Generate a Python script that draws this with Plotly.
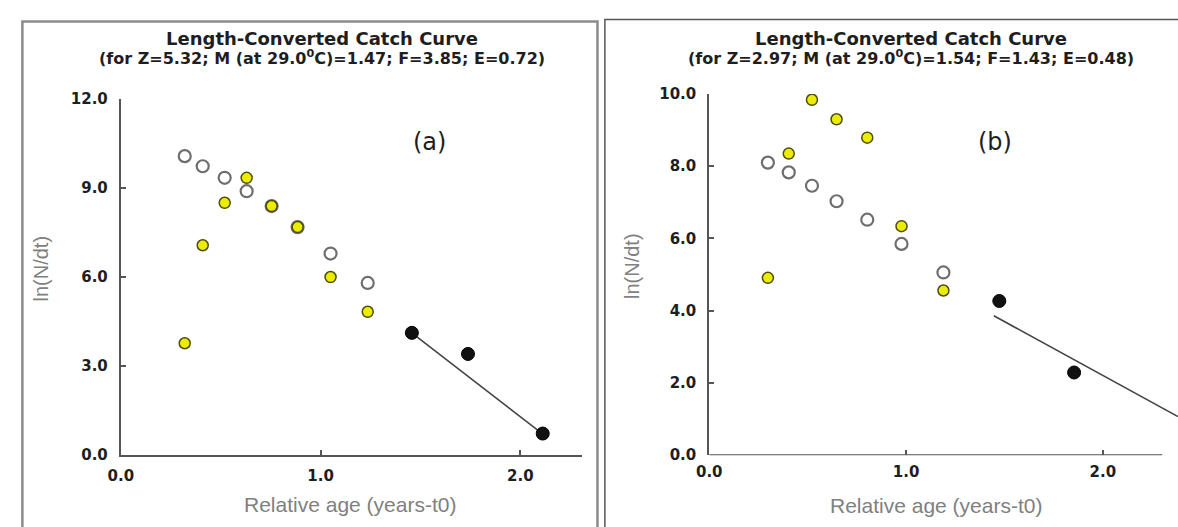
import plotly.graph_objects as go

W, H = 1178, 527

# ---------------- data ----------------
# Panel (a)
age_a = [0.32, 0.41, 0.52, 0.63, 0.755, 0.885, 1.05, 1.236]
open_a = [10.07, 9.73, 9.34, 8.89, 8.39, 7.68, 6.79, 5.80]
yellow_a = [3.77, 7.07, 8.50, 9.34, 8.39, 7.68, 6.00, 4.83]
black_age_a = [1.457, 1.738, 2.112]
black_a = [4.12, 3.41, 0.73]
fit_age_a = [1.476, 2.103]
fit_a = [4.02, 0.76]
yticks_a = [0, 3, 6, 9, 12]

# Panel (b)
age_b = [0.298, 0.404, 0.522, 0.647, 0.803, 0.977, 1.19]
open_b = [8.10, 7.83, 7.46, 7.03, 6.52, 5.85, 5.06]
yellow_b = [4.91, 8.35, 9.84, 9.30, 8.79, 6.34, 4.56]
black_age_b = [1.474, 1.854]
black_b = [4.27, 2.29]
fit_age_b = [1.446, 2.382]
fit_b = [3.86, 1.07]
yticks_b = [0, 2, 4, 6, 8, 10]

xticks = [0, 1, 2]

title_main = "Length-Converted Catch Curve"
sub_a = "(for Z=5.32; M (at 29.0<sup>0</sup>C)=1.47; F=3.85; E=0.72)"
sub_b = "(for Z=2.97; M (at 29.0<sup>0</sup>C)=1.54; F=1.43; E=0.48)"
xlabel = "Relative age (years-t0)"
ylabel = "ln(N/dt)"

# ---------------- styles ----------------
OPEN_FILL, OPEN_LINE = "white", "#6e6e6e"
YEL_FILL, YEL_LINE = "#ecec00", "#4e4e00"
BLACK = "#111111"
AXIS_C = "#555555"
TXT = "#1e1e1e"
GRAY_TXT = "#808080"


def px(x):
    return x / W


def py(y):
    return 1 - y / H


fig = go.Figure()


def add_panel(xa, ya, age, opn, yel, bage, blk, fage, fit):
    fig.add_trace(go.Scatter(x=age, y=opn, mode="markers", xaxis=xa, yaxis=ya,
                             marker=dict(size=12, color=OPEN_FILL,
                                         line=dict(color=OPEN_LINE, width=2.2)),
                             showlegend=False, hoverinfo="x+y"))
    fig.add_trace(go.Scatter(x=age, y=yel, mode="markers", xaxis=xa, yaxis=ya,
                             marker=dict(size=11, color=YEL_FILL,
                                         line=dict(color=YEL_LINE, width=1.5)),
                             showlegend=False, hoverinfo="x+y"))
    fig.add_trace(go.Scatter(x=fage, y=fit, mode="lines", xaxis=xa, yaxis=ya,
                             line=dict(color="#444444", width=1.6),
                             showlegend=False, hoverinfo="skip"))
    fig.add_trace(go.Scatter(x=bage, y=blk, mode="markers", xaxis=xa, yaxis=ya,
                             marker=dict(size=13, color=BLACK,
                                         line=dict(color="#000", width=1)),
                             showlegend=False, hoverinfo="x+y"))


add_panel("x", "y", age_a, open_a, yellow_a, black_age_a, black_a, fit_age_a, fit_a)
add_panel("x2", "y2", age_b, open_b, yellow_b, black_age_b, black_b, fit_age_b, fit_b)

tickfont = dict(family="DejaVu Sans", size=15, color=TXT, weight="bold")

axis_common = dict(showgrid=False, zeroline=False, ticks="inside", ticklen=5,
                   tickwidth=1.5, tickcolor=AXIS_C, tickfont=tickfont,
                   tickformat=".1f", fixedrange=True)

# panel a: x=0 at px 109, 2.0 at 513 ; y=12 at py 93, 0 at py 462
fig.update_layout(
    xaxis=dict(domain=[px(109), px(575)], range=[0, (575 - 109) / 202.0],
               tickvals=xticks, showline=True, linecolor=AXIS_C, linewidth=2,
               anchor="y", ticklabelstandoff=6, **axis_common),
    yaxis=dict(domain=[py(462), py(93)], range=[0, 12], tickvals=yticks_a,
               showline=True, linecolor=AXIS_C, linewidth=2, anchor="x",
               ticklabelstandoff=8, **axis_common),
    # panel b: x=0 at px 704, 2.0 at 1102 ; y=10 at py 88, 0 at py 462
    xaxis2=dict(domain=[px(704), 1.0], range=[0, (1178 - 704) / 199.0],
                tickvals=xticks, showline=False, anchor="y2",
                ticklabelstandoff=6, **axis_common),
    yaxis2=dict(domain=[py(462), py(88)], range=[0, 10], tickvals=yticks_b,
                showline=True, linecolor=AXIS_C, linewidth=2, anchor="x2",
                ticklabelstandoff=8, **axis_common),
)

shapes = [
    # panel frames
    dict(type="rect", xref="paper", yref="paper", x0=px(9.5), x1=px(591),
         y0=-0.1, y1=py(13), line=dict(color="#8c8c8c", width=2.5),
         fillcolor="rgba(0,0,0,0)", layer="below"),
    dict(type="rect", xref="paper", yref="paper", x0=px(598.5), x1=1.1,
         y0=-0.1, y1=py(11), line=dict(color="#555555", width=1.5),
         fillcolor="rgba(0,0,0,0)", layer="below"),
    # x-axis line of panel b (ends before the fitted line does)
    dict(type="line", xref="x2", yref="y2", x0=0, x1=(1162 - 704) / 199.0,
         y0=0, y1=0, line=dict(color=AXIS_C, width=2)),
]

ann = []


def text(x, y, s, size, color=TXT, bold=False, family="DejaVu Sans", angle=0):
    ann.append(dict(xref="paper", yref="paper", x=px(x), y=py(y), text=s,
                    showarrow=False, xanchor="center", yanchor="middle",
                    textangle=angle,
                    font=dict(family=family, size=size, color=color,
                              weight="bold" if bold else "normal")))


for cx, sub in ((312, sub_a), (908, sub_b)):
    text(cx, 31, title_main, 18, bold=True)
    text(cx, 50, sub, 16, bold=True)

text(421, 138, "(a)", 24)
text(993, 138, "(b)", 24)

text(341, 513, xlabel, 21, color=GRAY_TXT, family="Liberation Sans")
text(933, 514, xlabel, 21, color=GRAY_TXT, family="Liberation Sans")
text(28, 269, ylabel, 20, color=GRAY_TXT, family="Liberation Sans", angle=-90)
text(626, 266, ylabel, 20, color=GRAY_TXT, family="Liberation Sans", angle=-90)

fig.update_layout(
    width=W, height=H, autosize=False,
    margin=dict(l=0, r=0, t=0, b=0),
    paper_bgcolor="white", plot_bgcolor="white",
    shapes=shapes, annotations=ann, showlegend=False,
)

fig.write_html("out.html", config={"displayModeBar": False},
               post_script="document.body.style.margin='0';"
                           "document.body.style.overflow='hidden';")
